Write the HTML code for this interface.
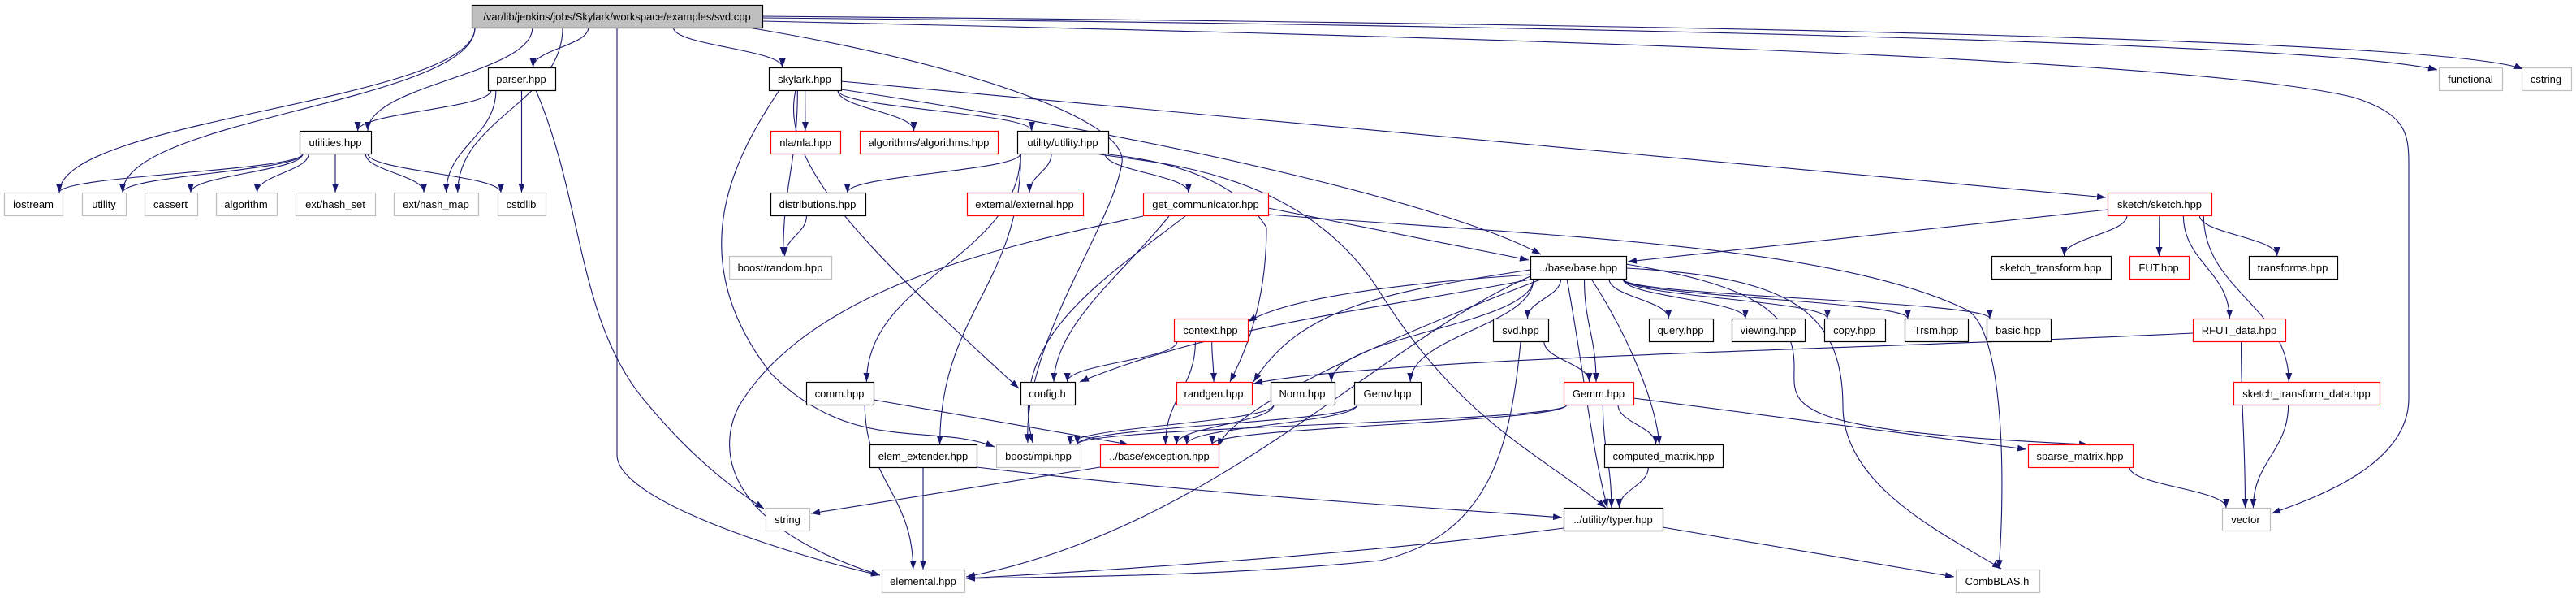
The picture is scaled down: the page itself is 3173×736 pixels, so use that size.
<!DOCTYPE html>
<html><head><meta charset="utf-8">
<style>
html,body{margin:0;padding:0;background:#fff;}
svg{display:block;}
text{font-family:"Liberation Sans",Arial,sans-serif;font-size:13px;fill:#000;}
</style></head>
<body>
<svg id="g" width="3173" height="736" viewBox="0 0 3173 736" xmlns="http://www.w3.org/2000/svg">
<defs>
<marker id="ah" markerUnits="userSpaceOnUse" markerWidth="12" markerHeight="10" refX="11" refY="4" orient="auto">
<path d="M0,0 L11,4 L0,8 z" fill="#191970"/>
</marker>
</defs>
<g id="edges" fill="none" stroke="#191970" stroke-width="1.1"></g>
<g id="nodes"></g>
</svg>
<script>
var N={
main:[581,6,358,"m"],parser:[601,83,83,"b"],skylark:[947,83,89,"b"],functional:[3004,83,78,"g"],cstring:[3106,83,61,"g"],
utilities:[369,161,88,"b"],nla:[949,161,86,"r"],algorithms:[1059,161,170,"r"],uutil:[1253,161,112,"b"],
iostream:[5,237,72,"g"],utility:[101,237,54,"g"],cassert:[178,237,65,"g"],algorithm:[266,237,75,"g"],hset:[364,237,98,"g"],
hmap:[485,237,104,"g"],cstdlib:[613,237,59,"g"],distr:[949,237,117,"b"],external:[1191,237,143,"r"],getcomm:[1408,237,154,"r"],
sketch:[2596,237,128,"r"],brandom:[898,315,126,"g"],base:[1885,315,118,"b"],sktr:[2453,315,147,"b"],fut:[2623,315,73,"r"],
transforms:[2770,315,109,"b"],context:[1446,392,91,"r"],svd:[1839,392,68,"b"],query:[2031,392,79,"b"],viewing:[2133,392,90,"b"],
copy:[2247,392,75,"b"],trsm:[2346,392,78,"b"],basic:[2447,392,79,"b"],rfut:[2701,392,114,"r"],comm:[993,470,83,"b"],
config:[1257,470,67,"b"],randgen:[1449,470,93,"r"],norm:[1565,470,79,"b"],gemv:[1668,470,82,"b"],gemm:[1926,470,86,"r"],
stdata:[2751,470,180,"r"],elemext:[1071,547,132,"b"],bmpi:[1227,547,104,"g"],exc:[1355,547,146,"r"],cmat:[1976,547,146,"b"],
sparse:[2498,547,129,"r"],string:[943,625,54,"g"],typer:[1926,625,122,"b"],vector:[2737,625,59,"g"],
elemental:[1086,701,102,"g"],combblas:[2409,701,103,"g"]
};
var O={
"main>functional":"M939,22 C1800,30 2850,50 3002,86",
"main>cstring":"M939,20 C1900,28 3000,45 3108,85",
"main>vector":"M939,26 C1800,45 2700,70 2900,120 C2960,140 2967,160 2967,200 L2967,490 C2967,570 2860,610 2798,632",
"main>elemental":"M760,34 L760,560 C760,620 1000,690 1084,708",
"main>bmpi":"M922,34 C1200,80 1390,150 1382,200 C1370,280 1260,420 1266,545",
"skylark>sketch":"M1036,100 L2594,243",
"skylark>base":"M1036,110 C1500,180 1800,260 1898,313",
"skylark>bmpi":"M960,111 C900,200 840,320 950,460 C1050,560 1150,520 1225,550",
"skylark>config":"M980,111 C960,200 1060,300 1255,478",
"getcomm>base":"M1562,256 L1883,320",
"getcomm>combblas":"M1562,264 C1900,290 2250,300 2420,380 C2470,400 2470,600 2462,700",
"getcomm>elemental":"M1408,266 C1250,300 1000,350 910,500 C880,560 900,650 1084,708",
"uutil>randgen":"M1365,190 C1460,200 1530,230 1560,280 C1560,380 1530,440 1515,470",
"uutil>typer":"M1350,189 C1400,200 1600,200 1700,360 C1800,520 1900,560 1978,625",
"sketch>base":"M2596,258 L2005,322",
"rfut>randgen":"M2701,410 C2300,430 1700,440 1544,472",
"elemext>typer":"M1203,575 C1500,610 1700,620 1924,637",
"comm>exc":"M1076,492 L1390,547",
"exc>string":"M1355,575 L999,632",
"typer>combblas":"M2048,649 L2407,710",
"typer>elemental":"M1926,650 C1700,680 1400,700 1190,712",
"svd>elemental":"M1873,421 C1860,560 1830,660 1700,690 C1500,710 1300,710 1190,712",
"base>elemental":"M1885,340 C1700,420 1500,650 1190,710",
"base>combblas":"M2003,330 C2200,340 2270,380 2270,500 C2270,600 2400,660 2465,700",
"base>sparse":"M2003,325 C2150,350 2210,380 2210,450 C2210,500 2190,530 2572,547",
"gemm>sparse":"M2012,490 L2496,553",
"base>randgen":"M1885,332 C1700,360 1600,380 1544,470",
"base>exc":"M1900,343 C1700,420 1520,500 1500,550",
"base>context":"M1885,338 C1700,350 1580,370 1537,396",
"base>config":"M1890,343 C1700,380 1500,400 1330,470",
"base>typer":"M1930,343 C1950,450 1960,550 1980,625",
"base>cmat":"M1960,343 C2010,420 2040,500 2044,547",
"parser>string":"M660,111 C720,250 710,400 800,500 C850,560 900,600 941,626",
"getcomm>bmpi":"M1460,266 C1350,350 1240,420 1272,545",
"getcomm>config":"M1440,266 C1380,340 1300,400 1298,470"
};
var E=[
["main","iostream"],["main","utility"],["main","utilities"],["main","hmap"],["main","parser"],["main","skylark"],
["main","bmpi"],["main","elemental"],["main","functional"],["main","cstring"],["main","vector"],
["parser","utilities"],["parser","hmap"],["parser","cstdlib"],["parser","string"],
["utilities","iostream"],["utilities","utility"],["utilities","cassert"],["utilities","algorithm"],["utilities","hset"],["utilities","hmap"],["utilities","cstdlib"],
["skylark","nla"],["skylark","algorithms"],["skylark","uutil"],["skylark","brandom"],["skylark","config"],["skylark","bmpi"],["skylark","base"],["skylark","sketch"],
["uutil","distr"],["uutil","external"],["uutil","getcomm"],["uutil","randgen"],["uutil","comm"],["uutil","elemext"],["uutil","typer"],
["distr","brandom"],
["getcomm","base"],["getcomm","config"],["getcomm","bmpi"],["getcomm","elemental"],["getcomm","combblas"],
["base","config"],["base","context"],["base","exc"],["base","norm"],["base","gemv"],["base","svd"],["base","gemm"],["base","cmat"],["base","typer"],
["base","query"],["base","viewing"],["base","copy"],["base","trsm"],["base","basic"],["base","sparse"],["base","combblas"],["base","elemental"],["base","randgen"],
["context","config"],["context","randgen"],["context","exc"],
["comm","elemental"],["comm","exc"],
["norm","bmpi"],["norm","exc"],["gemv","bmpi"],["gemv","exc"],
["svd","gemm"],["svd","elemental"],
["gemm","cmat"],["gemm","typer"],["gemm","bmpi"],["gemm","exc"],["gemm","sparse"],
["cmat","typer"],["typer","elemental"],["typer","combblas"],
["elemext","elemental"],["elemext","typer"],["exc","string"],
["sketch","base"],["sketch","sktr"],["sketch","fut"],["sketch","transforms"],["sketch","rfut"],["sketch","stdata"],
["rfut","randgen"],["rfut","vector"],["stdata","vector"],["sparse","vector"]
];
var H=28,NS="http://www.w3.org/2000/svg";
function cl(v,a,b){return Math.max(a,Math.min(b,v));}
var eg=document.getElementById("edges");
E.forEach(function(e){
 var s=N[e[0]],t=N[e[1]],d;
 var key=e[0]+">"+e[1];
 if(O[key]){d=O[key];}else{
 var scx=s[0]+s[2]/2,tcx=t[0]+t[2]/2;
 var sx=cl(scx+(tcx-scx)*0.3,s[0]+4,s[0]+s[2]-4),sy=s[1]+H;
 var tx=cl(tcx+(scx-tcx)*0.12,t[0]+4,t[0]+t[2]-4),ty=t[1];
 var k=(ty-sy)*0.45;
 d="M"+sx+","+sy+" C"+sx+","+(sy+k)+" "+tx+","+(ty-k)+" "+tx+","+ty;}
 var p=document.createElementNS(NS,"path");
 p.setAttribute("d",d);
 p.setAttribute("marker-end","url(#ah)");
 eg.appendChild(p);
});
var ng=document.getElementById("nodes");
for(var q in N){var n=N[q];
 var r=document.createElementNS(NS,"rect");
 r.setAttribute("x",n[0]+0.5);r.setAttribute("y",n[1]+0.5);r.setAttribute("width",n[2]);r.setAttribute("height",H);
 var c=n[3];
 r.setAttribute("fill",c=="m"?"#bfbfbf":"#fff");
 r.setAttribute("stroke",c=="r"?"#ff0000":(c=="g"?"#bfbfbf":"#000"));
 r.setAttribute("stroke-width","1.2");
 ng.appendChild(r);
}
</script>
<svg width="3173" height="736" viewBox="0 0 3173 736" style="position:absolute;left:0;top:0" xmlns="http://www.w3.org/2000/svg">
<g text-anchor="middle">
<text x="760" y="25">/var/lib/jenkins/jobs/Skylark/workspace/examples/svd.cpp</text>
<text x="642" y="102">parser.hpp</text>
<text x="991" y="102">skylark.hpp</text>
<text x="3043" y="102">functional</text>
<text x="3136" y="102">cstring</text>
<text x="413" y="180">utilities.hpp</text>
<text x="992" y="180">nla/nla.hpp</text>
<text x="1144" y="180">algorithms/algorithms.hpp</text>
<text x="1309" y="180">utility/utility.hpp</text>
<text x="41" y="256">iostream</text>
<text x="128" y="256">utility</text>
<text x="210" y="256">cassert</text>
<text x="303" y="256">algorithm</text>
<text x="413" y="256">ext/hash_set</text>
<text x="537" y="256">ext/hash_map</text>
<text x="642" y="256">cstdlib</text>
<text x="1007" y="256">distributions.hpp</text>
<text x="1262" y="256">external/external.hpp</text>
<text x="1485" y="256">get_communicator.hpp</text>
<text x="2660" y="256">sketch/sketch.hpp</text>
<text x="961" y="334">boost/random.hpp</text>
<text x="1944" y="334">../base/base.hpp</text>
<text x="2526" y="334">sketch_transform.hpp</text>
<text x="2659" y="334">FUT.hpp</text>
<text x="2824" y="334">transforms.hpp</text>
<text x="1491" y="411">context.hpp</text>
<text x="1873" y="411">svd.hpp</text>
<text x="2070" y="411">query.hpp</text>
<text x="2178" y="411">viewing.hpp</text>
<text x="2284" y="411">copy.hpp</text>
<text x="2385" y="411">Trsm.hpp</text>
<text x="2486" y="411">basic.hpp</text>
<text x="2758" y="411">RFUT_data.hpp</text>
<text x="1034" y="489">comm.hpp</text>
<text x="1290" y="489">config.h</text>
<text x="1495" y="489">randgen.hpp</text>
<text x="1604" y="489">Norm.hpp</text>
<text x="1709" y="489">Gemv.hpp</text>
<text x="1969" y="489">Gemm.hpp</text>
<text x="2841" y="489">sketch_transform_data.hpp</text>
<text x="1137" y="566">elem_extender.hpp</text>
<text x="1279" y="566">boost/mpi.hpp</text>
<text x="1428" y="566">../base/exception.hpp</text>
<text x="2049" y="566">computed_matrix.hpp</text>
<text x="2562" y="566">sparse_matrix.hpp</text>
<text x="970" y="644">string</text>
<text x="1987" y="644">../utility/typer.hpp</text>
<text x="2766" y="644">vector</text>
<text x="1137" y="720">elemental.hpp</text>
<text x="2460" y="720">CombBLAS.h</text>
</g>
</svg>
</body></html>
